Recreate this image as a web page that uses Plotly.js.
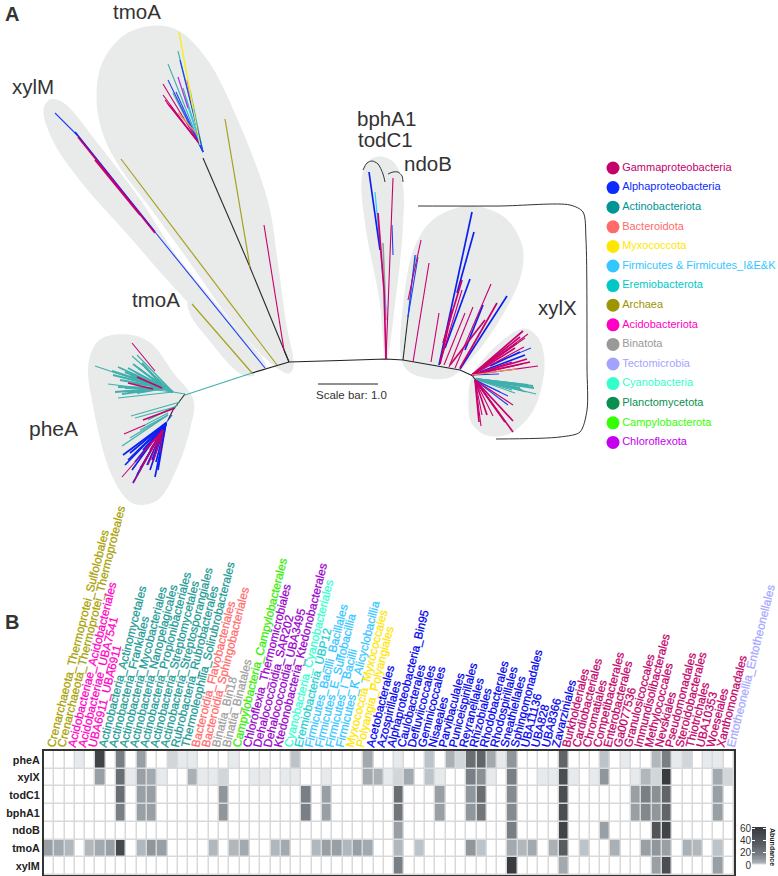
<!DOCTYPE html>
<html><head><meta charset="utf-8">
<script src="https://cdn.plot.ly/plotly-3.0.1.min.js"></script>
<style>html,body{margin:0;padding:0;background:#fff}#c{width:778px;height:876px}</style>
</head><body><div id="c"></div>
<script>
// ---------- heatmap data ----------
const orders = ["Crenarchaeota_Thermoprotei_Sulfolobales","Crenarchaeota_Thermoprotei_Thermoproteales","Acidobacteriae_Acidobacteriales","Acidobacteriae_UBA7541","UBA6911_UBA6911","Actinobacteria_Actinomycetales","Actinobacteria_Frankiales","Actinobacteria_Mycobacteriales","Actinobacteria_Nanopelagicales","Actinobacteria_Propionibacteriales","Actinobacteria_Streptomycetales","Actinobacteria_Streptosporangiales","Rubrobacteria_Rubrobacterales","Thermoleophilia_Solirubrobacterales","Bacteroidia_Flavobacteriales","Bacteroidia_Sphingobacteriales","Binatia_Bin18","Binatia_Binatales","Campylobacteria_Campylobacterales","Chloroflexia_Thermomicrobiales","Dehalococcoidia_SAR202","Dehalococcoidia_UBA3495","Ktedonobacteria_Ktedonobacterales","Cyanobacteria_Cyanobacteriales","Eremiobacteria_UBP12","Firmicutes_Bacilli_Bacillales","Firmicutes_E_Sulfobacillia","Firmicutes_I_Bacilli","Firmicutes_K_Alicyclobacillia","Myxococcia_Myxococcales","Polyangia_Polyangiales","Acetobacterales","Azospirillales","Alphaproteobacteria_Bin95","Caulobacterales","Defluviicoccales","Geminicoccales","Nisaeales","Parvibaculales","Puniceispirillales","Reyranellales","Rhizobiales","Rhodobacterales","Rhodospirillales","Sneathiellales","Sphingomonadales","UBA11136","UBA828","UBA8366","Zavarziniales","Burkholderiales","Cardiobacteriales","Chromatiales","Competibacterales","Enterobacterales","Ga0077536","Granulosicoccales","Immundisolibacterales","Methylococcales","Nevskiales","Pseudomonadales","Steroidobacterales","Thiotrichales","UBA10353","Woeseiales","Xanthomonadales","Entotheonellia_Entotheonellales"];
const orderGroups = [7,7,8,8,8, 2,2,2,2,2,2,2,2,2, 3,3, 9,9, 13, 14,14,14,14, 11, 6, 5,5,5,5, 4,4, 1,1,1,1,1,1,1,1,1,1,1,1,1,1,1,1,1,1,1, 0,0,0,0,0,0,0,0,0,0,0,0,0,0,0,0, 10];
const genes = ["pheA","xylX","todC1","bphA1","ndoB","tmoA","xylM"];
const pheA = [0,0,0,1,0,54,0,18,0,8, 0,0,2,1,1,0,0,0,1,0, 0,0,0,0,3,0,0,0,0,0, 0,6,0,0,1,0,0,3,0,5, 2,26,30,6,1,10,0,0,0,0, 30,0,0,0,3,0,1,0,0,4, 18,1,2,0,1,1,0];
const xylX = [0,0,0,0,0,8,0,26,1,8, 6,1,0,0,5,1,1,2,0,0, 1,1,0,1,1,0,0,1,0,0, 0,6,5,1,2,6,0,3,1,0, 0,18,12,1,0,18,0,0,1,1, 46,1,0,1,10,0,0,1,4,2, 60,0,0,0,0,6,2];
const todC1 = [0,0,0,0,0,0,0,26,0,8, 8,0,0,0,0,0,0,10,0,0, 0,0,0,0,0,18,0,8,0,0, 0,0,0,0,26,0,0,0,8,0, 0,10,26,0,0,14,0,0,0,0, 46,0,0,0,0,0,0,8,18,12, 30,0,0,0,0,8,0];
const bphA1 = [0,0,0,0,0,0,0,18,0,8, 8,0,0,0,0,0,0,10,0,0, 0,0,0,0,0,18,0,8,0,0, 0,0,0,0,22,0,0,0,8,0, 0,10,22,0,0,14,0,0,0,0, 46,0,0,0,0,0,0,8,15,10, 30,0,0,0,0,8,0];
const ndoB = [0,0,0,0,0,0,0,0,0,0, 0,0,0,0,0,0,0,0,0,0, 0,0,0,0,0,0,0,0,0,0, 0,0,0,0,8,0,0,0,0,0, 0,0,0,0,0,18,0,0,0,0, 54,0,0,0,8,0,0,0,0,42, 54,0,0,0,0,0,0];
const tmoA = [8,6,4,0,4,6,8,50,0,4, 10,8,0,0,0,0,4,0,4,6, 0,0,4,6,0,0,4,8,8,4, 8,6,0,0,4,0,3,0,0,0, 0,10,3,0,0,6,4,6,0,5, 36,0,3,0,0,5,0,0,8,10, 8,0,5,4,0,3,0];
const xylM = [0,0,0,0,0,0,0,0,0,0, 0,0,0,0,0,0,0,0,0,0, 0,0,0,0,0,0,0,0,0,0, 0,0,0,0,18,0,0,0,0,0, 0,0,0,0,0,60,0,0,0,0, 6,0,0,0,0,0,0,0,0,8, 46,0,0,0,0,8,0];
const abundanceRamp = [0,1,2,3,4,6,8,10,12,15,18,21,24,27,30,33,36,39,42,46,50,54,60];
const abundanceTicks = [0,20,40,60];

// ---------- legend ----------
const groupNames = ["Gammaproteobacteria","Alphaproteobacteria","Actinobacteriota","Bacteroidota","Myxococcota","Firmicutes & Firmicutes_I&E&K","Eremiobacterota","Archaea","Acidobacteriota","Binatota","Tectomicrobia","Cyanobacteria","Planctomycetota","Campylobacterota","Chloroflexota"];
const groupColors = ["#c4006a","#0a2cff","#009494","#ff6b6b","#ffe600","#33c6ff","#00c8c8","#9c9400","#ff00c4","#999999","#a3a3ff","#33ffcc","#0a8f4f","#33ff00","#c400ee"];
const labelColors = ["#c4006a","#0000ee","#1a9a94","#ff6b6b","#ffe600","#33c6ff","#20d0d0","#a8a000","#ff00c4","#a0a0a0","#a8a8ff","#33ffd0","#0a8f4f","#33ee00","#9a00cc"];

// ---------- tree (picture coordinates: x0,y0,x1,y1 per branch) ----------
const backbone = [[252,373],[265,369],[277,365],[289,362],[340,360.5],[386,359],[403,360],[430,365],[460,370],[473,376]];
const treeBlack = [[289,362,247,260],[247,260,203,158],[284,350,289,362],[185,394,173,410],[173,410,168,420],[403,360,408,317],[472,375,476,381]];
const treeOlive = [[277,365,121,159],[252,373,192,304],[250,267,225,119]];
const treeTealThin = [[185,395,252,373],[173,392,185,394],
 [173,392,95,366],[173,392,137,355],[173,392,132,356],[173,392,118,398],[173,392,108,384],
 [180,402,131,416],[175,407,135,418],[168,413,145,425],[168,415,122,446],[168,415,130,438],[168,415,140,430],[178,405,148,420],
 [203,152,178,51],[203,152,168,64],[203,152,173,93],[203,152,183,88],[203,152,190,90],
 [412,280,416,255],[408,317,412,280],
 [475,379,515,393],[475,379,512,390],[475,379,526,392],[475,379,536,394]];
const treeTealThick = [[165,388,112,371],[165,388,118,367],[165,388,128,368],[165,388,133,364],[165,388,142,363],[165,388,145,367],[165,388,113,375],[165,388,118,387],[165,388,125,388],[165,388,122,394],[165,388,133,383],[165,388,140,383],[165,388,137,393],[165,388,120,380],[165,388,115,392],[165,388,130,376],[165,388,135,372],[165,388,125,372],[165,388,138,368],[165,388,128,392],[173,392,150,384],[173,392,152,378],
 [475,379,533,386],[475,379,534,388],[475,379,522,390],[475,379,528,385],[475,379,518,384],[475,379,520,388]];
const treeBlueThin = [[265,368,155,232],[77,135,55,113],[172,415,166,423],
 [203,152,180,60],[203,152,168,80],[203,152,176,92],
 [408,317,415,255],[408,317,418,257],[393,255,392,225],
 [497,362,531,348],[472,375,499,374],[475,380,508,396],[475,380,508,405],[475,380,500,392]];
const treeBlueThick = [[155,232,75,132],
 [166,423,123,455],[166,423,125,465],[166,423,130,453],[166,423,155,477],[166,423,158,470],[166,423,140,457],[166,423,147,465],[166,423,133,483],[166,423,135,462],[166,423,128,460],[166,423,152,460],[166,423,143,450],[166,423,150,470],[166,423,132,470],[166,423,137,475],[166,423,156,462],
 [380,250,369,172],
 [439,365,472,212],[457,293,474,232],[445,348,470,279],[465,350,483,305],[460,369,507,296],
 [490,366,520,352],[480,372,525,355]];
const treeCrimsonThin = [[284,350,264,225],
 [155,371,132,343],[145,425,124,434],
 [163,430,122,477],[163,430,133,483],[163,430,140,468],[163,430,148,465],[163,430,153,462],[163,430,160,453],
 [198,142,163,84],[198,142,163,95],[198,142,165,100],[198,142,167,103],[198,142,170,105],
 [386,359,393,178],
 [413,362,429,263],[431,362,439,313],[408,300,421,240],
 [441,360,462,290],[444,365,465,313],[449,367,473,307],[455,368,491,284],
 [472,375,528,334],[472,375,525,338],[472,375,524,347],[472,375,538,366],[472,375,522,364],[472,375,512,362],
 [475,380,513,405],[475,380,481,426],[475,380,493,416],[475,380,498,412],[475,380,482,415]];
const treeCrimsonThick = [[155,233,78,137],[140,215,95,160],[128,383,153,389],[137,377,162,388],[143,420,175,408],
 [163,430,145,450],[163,430,150,450],
 [386,359,384,290],[384,290,378,213],
 [443,343,462,280],[440,364,452,310],[460,368,497,303],[450,365,485,320],
 [472,375,523,331],[472,375,520,337],[472,375,517,343],[472,375,515,348],[472,375,527,359],[472,375,530,362],
 [475,380,513,421],[475,380,513,432],[475,380,479,422],[475,380,487,415],[475,380,505,422]];
const treeYellow = [[193,108,179,32]];
const treePale = [[193,108,200,145]];
const treeMagenta = [[193,108,187,80]];
const treePurple = [[188,108,178,77]];
const treeCyan = [[386,310,375,192],[203,152,185,98]];
const treeGrey = [[386,320,383,243]];
const treeOrange = [[472,375,517,369],[198,135,178,113]];
const bracketArc = [[418,206],[500,206],[570,205],[583,212],[586,240],[587,367],[587,410],[580,432],[560,437],[496,439]];
const bphArc = [[363,170],[367,163],[372,161],[378,164],[383,174],[385,182]];
const ndoArc = [[388,174],[393,172],[398,172],[402,176],[403,182]];
const scaleBarEnds = [[318,384],[378,384]];

// ---------- gray clade hulls ----------
const hullTmoABig = [[157,26],[125,35],[103,62],[97,97],[103,133],[120,167],[150,207],[190,262],[235,325],[275,366],[289,373],[293,367],[285,320],[277,260],[267,200],[233,110],[207,60],[180,32]];
const hullXylM = [[50,100],[44,110],[53,140],[80,180],[133,240],[165,277],[215,330],[258,371],[266,368],[225,315],[177,257],[140,200],[100,147],[63,103]];
const hullTmoASmall = [[188,303],[193,297],[220,323],[247,360],[254,375],[240,373],[207,337],[192,317]];
const hullPheA = [[128,335],[100,340],[89,363],[93,403],[113,477],[133,503],[157,500],[177,467],[190,427],[193,400],[173,373],[150,343]];
const hullBph = [[378,157],[367,163],[362,180],[367,233],[380,300],[386,360],[395,300],[402,233],[402,183],[393,162]];
const hullXylXUp = [[463,207],[433,220],[415,247],[405,293],[402,360],[410,372],[430,378],[450,377],[467,363],[493,330],[520,277],[522,247],[507,220],[483,208]];
const hullXylXLow = [[523,329],[500,343],[473,375],[469,400],[472,423],[487,435],[510,433],[533,410],[544,367],[540,342],[532,332]];

// ---------- helpers ----------
const W = 778, H = 876;
function segTrace(list, color, width){
  const x=[], y=[];
  list.forEach(s=>{x.push(s[0],s[2],null);y.push(s[1],s[3],null);});
  return {type:'scatter',mode:'lines',xaxis:'x2',yaxis:'y2',x,y,hoverinfo:'skip',showlegend:false,line:{color,width}};
}
function polyTrace(pts,color,width,spline){
  return {type:'scatter',mode:'lines',xaxis:'x2',yaxis:'y2',x:pts.map(p=>p[0]),y:pts.map(p=>p[1]),
    hoverinfo:'skip',showlegend:false,line:{color,width,shape:spline?'spline':'linear',smoothing:0.8}};
}
function hullTrace(pts){
  const c = pts.concat([pts[0]]);
  return {type:'scatter',mode:'lines',xaxis:'x2',yaxis:'y2',x:c.map(p=>p[0]),y:c.map(p=>p[1]),fill:'toself',
    fillcolor:'#e9ebeb',hoverinfo:'skip',showlegend:false,line:{color:'#e9ebeb',width:1,shape:'spline',smoothing:1}};
}
const GREY = [[0,'#ffffff'],[1/60,'#e6eaec'],[2/60,'#d0d6da'],[3/60,'#bcc4c9'],[4/60,'#b0b8bd'],[6/60,'#a2aab0'],[8/60,'#98a0a6'],[10/60,'#8f979d'],[18/60,'#787f85'],[30/60,'#606569'],[46/60,'#4a4e52'],[1,'#383c40']];

const traces = [];
[hullTmoABig,hullXylM,hullTmoASmall,hullPheA,hullBph,hullXylXUp,hullXylXLow].forEach(h=>traces.push(hullTrace(h)));
traces.push(polyTrace(backbone,'#222',1.1,false));
traces.push(segTrace(treeBlack,'#2a2a2a',1.1));
traces.push(segTrace(treeOlive,'#a8a01e',1.2));
traces.push(segTrace(treeTealThin,'#3fb0ac',1.1));
traces.push(segTrace(treeTealThick,'#3fb0ac',1.9));
traces.push(segTrace(treeGrey,'#9a9a9a',1.6));
traces.push(segTrace(treeCyan,'#33c6ff',1.2));
traces.push(segTrace(treeBlueThin,'#2040f0',1.1));
traces.push(segTrace(treeBlueThick,'#0c20f0',1.7));
traces.push(segTrace(treeCrimsonThin,'#c8006e',1.1));
traces.push(segTrace(treeCrimsonThick,'#c8006e',1.7));
traces.push(segTrace(treePurple,'#b030e0',1.2));
traces.push(segTrace(treeMagenta,'#f050c0',1.2));
traces.push(segTrace(treeYellow,'#f5ee20',1.4));
traces.push(segTrace(treePale,'#d8e860',1.2));
traces.push(segTrace(treeOrange,'#f09060',1.2));
traces.push(polyTrace(bracketArc,'#333',1,true));
traces.push(polyTrace(bphArc,'#333',1,true));
traces.push(polyTrace(ndoArc,'#333',1,true));
traces.push(polyTrace(scaleBarEnds,'#222',1,false));

// legend
traces.push({type:'scatter',mode:'markers+text',xaxis:'x2',yaxis:'y2',
  x:groupNames.map(()=>613),y:groupNames.map((_,i)=>168+19.6*i),
  text:groupNames,textposition:'middle right',
  textfont:{family:'Liberation Sans',size:11,color:groupColors},
  marker:{size:13,color:groupColors},hoverinfo:'skip',showlegend:false});

// heatmap
traces.push({type:'heatmap',xaxis:'x',yaxis:'y',x:orders.map((_,i)=>i+1),y:genes.map((_,i)=>i+1),
  z:[pheA,xylX,todC1,bphA1,ndoB,tmoA,xylM],zmin:0,zmax:60,colorscale:GREY,showscale:false,xgap:1.5,ygap:1.5});

// abundance key
traces.push({type:'heatmap',xaxis:'x3',yaxis:'y3',x:[1],y:abundanceRamp,z:abundanceRamp.map(v=>[v]),
  zmin:0,zmax:60,colorscale:GREY,showscale:false});

const annotations = [
 ['A',3,14,20,'start',true],['B',3,622,20,'start',true],
 ['tmoA',137,11,20.5,'middle'],['xylM',33,86,20.5,'middle'],['tmoA',156,299,20.5,'middle'],['pheA',53,428,21,'middle'],
 ['bphA1',386,118,20.5,'middle'],['todC1',385,139,20.5,'middle'],['ndoB',428,163,20.5,'middle'],['xylX',557,307,20.5,'middle'],
 ['Scale bar: 1.0',351,395,11.5,'middle']
].map(a=>({text:a[5]?'<b>'+a[0]+'</b>':a[0],x:a[1],y:a[2],xref:'x2',yref:'y2',showarrow:false,xanchor:a[4]=='start'?'left':'center',yanchor:'middle',
   font:{family:'Liberation Sans',size:a[3],color:'#333'}}));
annotations.push({text:'<b>Abundance</b>',x:773,y:847,xref:'x2',yref:'y2',showarrow:false,textangle:90,font:{family:'Liberation Sans',size:7,color:'#222'}});

const layout = {
  width:W,height:H,margin:{l:0,r:0,t:0,b:0},paper_bgcolor:'#fff',plot_bgcolor:'rgba(0,0,0,0)',showlegend:false,
  font:{family:'Liberation Sans'},
  xaxis:{domain:[44/W,734/W],range:[0.5,67.5],anchor:'y',side:'top',tickmode:'array',tickvals:orders.map((_,i)=>i+1),
    ticktext:orders.map((o,i)=>'<span style="color:'+labelColors[orderGroups[i]]+'">'+o+'</span>'),ticklabeloverflow:'allow',ticklabelstandoff:-8,
    tickangle:-76,tickfont:{family:'Liberation Sans',size:11.7},ticks:'',showgrid:false,zeroline:false,showline:true,mirror:true,linecolor:'#333',linewidth:2,automargin:false,fixedrange:true},
  yaxis:{domain:[1/H,(H-751)/H],range:[7.5,0.5],anchor:'x',tickmode:'array',tickvals:genes.map((_,i)=>i+1),ticktext:genes.map(g=>'<b>'+g+'</b>'),
    tickfont:{family:'Liberation Sans',size:10.8,color:'#222'},ticks:'',showgrid:false,zeroline:false,showline:true,mirror:true,linecolor:'#333',linewidth:2,automargin:false,fixedrange:true},
  xaxis2:{domain:[0,1],range:[0,W],anchor:'y2',visible:false,fixedrange:true},
  yaxis2:{domain:[0,1],range:[H,0],anchor:'x2',visible:false,fixedrange:true},
  xaxis3:{domain:[752/W,766/W],range:[0.5,1.5],anchor:'y3',visible:false,fixedrange:true},
  yaxis3:{domain:[(H-867)/H,(H-827)/H],range:[-3,62],anchor:'x3',tickmode:'array',tickvals:abundanceTicks,ticks:'inside',ticklen:3,tickwidth:1,tickcolor:'#fff',mirror:'ticks',
     tickfont:{family:'Liberation Sans',size:10,color:'#333'},showgrid:false,zeroline:false,showline:false,fixedrange:true},
  shapes:[{type:'rect',xref:'x',yref:'y',x0:0.5,x1:67.5,y0:0.5,y1:7.5,fillcolor:'#d9d9d9',line:{width:0},layer:'below'}],
  annotations
};
Plotly.newPlot('c',traces,layout,{staticPlot:true,displayModeBar:false}).then(()=>{
  document.querySelectorAll('.xtick text tspan').forEach(t=>{t.style.stroke=t.style.fill;t.style.strokeWidth='0.25px';});
});
</script>
</body></html>
